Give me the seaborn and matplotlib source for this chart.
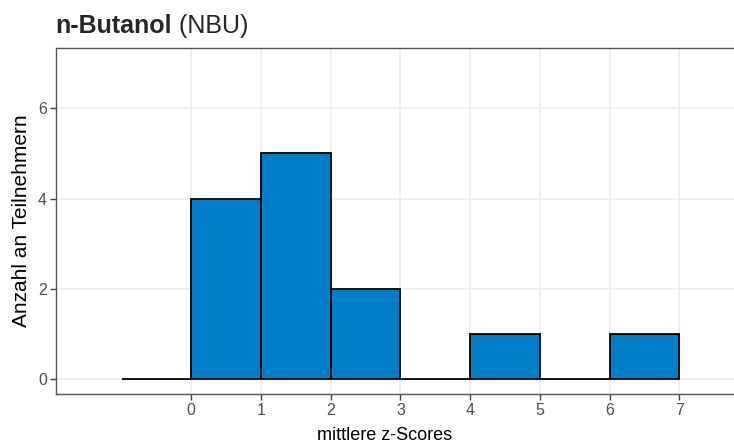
import numpy as np
import pandas as pd
import matplotlib
matplotlib.use("Agg")
import matplotlib.pyplot as plt
import seaborn as sns

# data
bin_edges = [-1, 0, 1, 2, 3, 4, 5, 6, 7]
bin_counts = [0, 4, 5, 2, 0, 1, 0, 1]
x_ticks = [0, 1, 2, 3, 4, 5, 6, 7]
y_ticks = [0, 2, 4, 6]
title_bold = "n-Butanol"
title_rest = " (NBU)"
x_label = "mittlere z-Scores"
y_label = "Anzahl an Teilnehmern"

centers = [(a + b) / 2 for a, b in zip(bin_edges[:-1], bin_edges[1:])]
df = pd.DataFrame({"z": centers, "n": bin_counts})

sns.set_theme(style="whitegrid")
plt.rcParams['font.family'] = ['Liberation Sans', 'DejaVu Sans']

fig = plt.figure(figsize=(7.34, 4.43), dpi=100)
ax = fig.add_axes([56 / 734, 48.7 / 443, 714 / 734, 346.3 / 443])

sns.histplot(data=df, x="z", weights="n", bins=bin_edges, ax=ax,
             color="#007FC8", edgecolor="black", linewidth=1.3, alpha=1.0,
             zorder=3)

ax.set_xlim(-1.94, 8.30)
ax.set_ylim(-0.33, 7.33)
ax.set_xticks(x_ticks)
ax.set_yticks(y_ticks)
ax.grid(True, color="#EBEBEB", linewidth=1.1, zorder=0)
ax.set_axisbelow(True)
for s in ax.spines.values():
    s.set_color("#555555")
    s.set_linewidth(1.0)
ax.spines["right"].set_visible(False)
ax.tick_params(axis="both", which="major", length=4, width=1.0, color="#444444",
               labelsize=11.5, labelcolor="#4D4D4D", pad=2.5,
               bottom=True, left=True)
ax.set_xlabel(x_label, fontsize=13, color="black", labelpad=5)
ax.set_ylabel(y_label, fontsize=15, color="black", labelpad=5)
ax.xaxis.set_label_coords((385 - 56) / 714, -0.093)

t1 = fig.text(55 / 734, 1 - 33 / 443, title_bold, fontsize=18, fontweight="bold",
              ha="left", va="baseline")
fig.canvas.draw()
bb = t1.get_window_extent()
fig.text(bb.x1 / (734), 1 - 33 / 443, title_rest, fontsize=18,
         ha="left", va="baseline")

fig.savefig("out.png", dpi=100)
